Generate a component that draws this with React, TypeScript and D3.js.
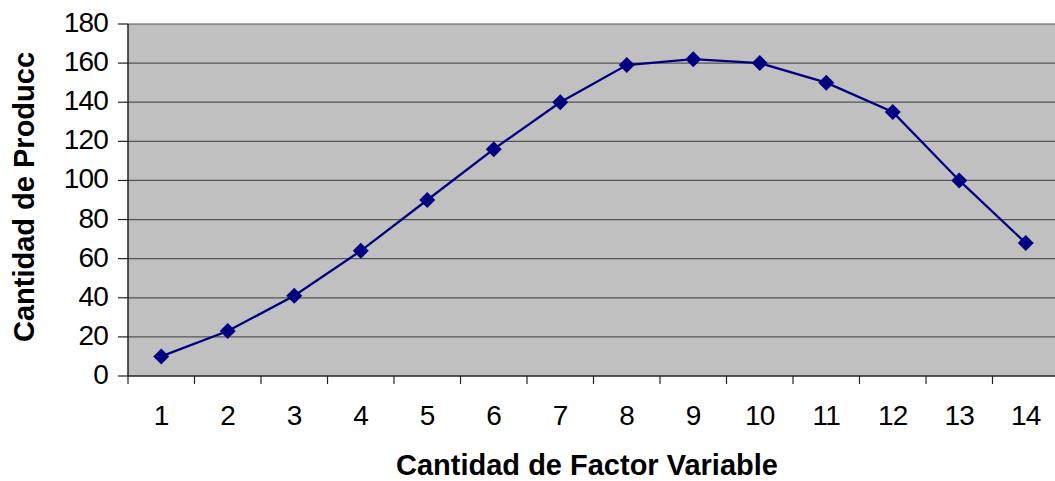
import React from "react";
import * as d3 from "d3";

const categories = ["1","2","3","4","5","6","7","8","9","10","11","12","13","14"];
const values = [10, 23, 41, 64, 90, 116, 140, 159, 162, 160, 150, 135, 100, 68];
const yTicks = [0, 20, 40, 60, 80, 100, 120, 140, 160, 180];
const xTitle = "Cantidad de Factor Variable";
const yTitle = "Cantidad de Producc";

export default function App() {
  const W = 1055, H = 481;
  const left = 128, top = 24, bottom = 376, right = 1059;
  const x = d3.scaleBand<string>().domain(categories).range([left, right]).padding(0);
  const y = d3.scaleLinear().domain([0, 180]).range([bottom, top]);
  const line = d3.line<number>()
    .x((_, i) => x(categories[i])! + x.bandwidth() / 2)
    .y((d) => y(d));
  const font = "'Liberation Sans', Arial, sans-serif";
  const diamond = (cx: number, cy: number, r: number) =>
    `M${cx},${cy - r}L${cx + r},${cy}L${cx},${cy + r}L${cx - r},${cy}Z`;
  return (
    <svg width={W} height={H} style={{ position: "absolute", left: 0, top: 0, background: "#fff" }}>
      <rect x={left} y={top} width={right - left} height={bottom - top} fill="#c0c0c0" />
      {yTicks.map((t) => (
        <g key={t}>
          {t > 0 && (
            <line x1={left} x2={right} y1={y(t)} y2={y(t)} stroke="#555" strokeWidth={1.2} />
          )}
          <line x1={left - 10} x2={left} y1={y(t)} y2={y(t)} stroke="#222" strokeWidth={1.2} />
          <text x={108} y={y(t) + 8} textAnchor="end" fontFamily={font} fontSize={28} letterSpacing={-0.8} fill="#000">
            {t}
          </text>
        </g>
      ))}
      <line x1={left} x2={left} y1={top} y2={bottom} stroke="#222" strokeWidth={1.5} />
      <line x1={left} x2={right} y1={bottom} y2={bottom} stroke="#222" strokeWidth={1.5} />
      {categories.map((c, i) => (
        <g key={c}>
          <line x1={x(c)!} x2={x(c)!} y1={bottom} y2={bottom + 8} stroke="#222" strokeWidth={1.2} />
          <text x={x(c)! + x.bandwidth() / 2} y={425} textAnchor="middle" fontFamily={font} fontSize={28} letterSpacing={-0.8} fill="#000">
            {c}
          </text>
        </g>
      ))}
      <path d={line(values)!} fill="none" stroke="#000080" strokeWidth={2.3} />
      {values.map((v, i) => (
        <path key={i} d={diamond(x(categories[i])! + x.bandwidth() / 2, y(v), 8)} fill="#000080" />
      ))}
      <text x={587} y={475} textAnchor="middle" fontFamily={font} fontWeight="bold" fontSize={29} fill="#000">
        {xTitle}
      </text>
      <text transform={`translate(34,197) rotate(-90)`} textAnchor="middle" fontFamily={font} fontWeight="bold" fontSize={29} fill="#000">
        {yTitle}
      </text>
    </svg>
  );
}
